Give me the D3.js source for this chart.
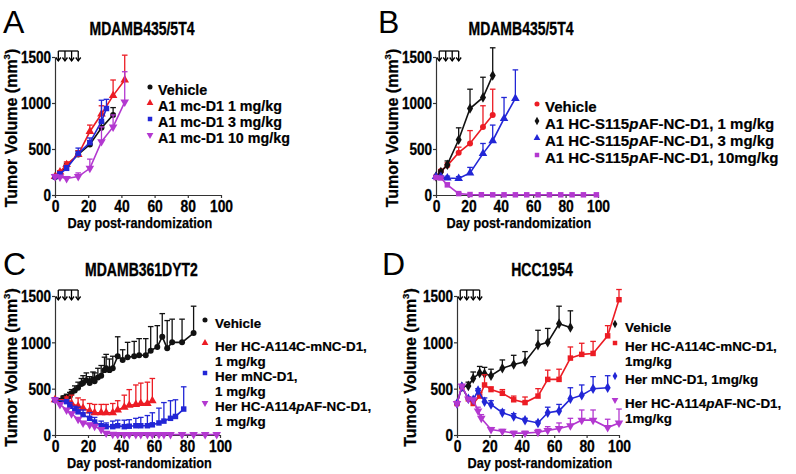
<!DOCTYPE html>
<html><head><meta charset="utf-8">
<script src="https://cdn.jsdelivr.net/npm/d3@7"></script>
<style>
body{margin:0;background:#fff;}
svg{font-family:"Liberation Sans",Arial,Helvetica,sans-serif;}
</style></head><body>
<svg id="chart" width="796" height="474"></svg>
<script>
// ---- shared ticks / labels ----
const xTickValues = [0, 20, 40, 60, 80, 100];
const yTickValues = [0, 500, 1000, 1500];
const doseArrowDays = [2, 6, 10, 14];
const panelLetters = ["A", "B", "C", "D"];
const panelTitles = ["MDAMB435/5T4", "MDAMB435/5T4", "MDAMB361DYT2", "HCC1954"];

// ---- Panel A ----
const aVehDays = [0, 3, 7, 14, 21, 28, 35];
const aVehVals = [195, 240, 320, 440, 550, 730, 870];
const aVehErr  = [10, 20, 25, 40, 40, 60, 80];
const aD1Days = [0, 3, 7, 14, 21, 28, 35, 42];
const aD1Vals = [200, 250, 330, 440, 690, 880, 1080, 1250];
const aD1Err  = [10, 15, 30, 40, 70, 90, 170, 270];
const aD3Days = [0, 3, 7, 14, 21, 28, 31];
const aD3Vals = [200, 230, 290, 450, 570, 800, 940];
const aD3Err  = [10, 15, 30, 60, 50, 230, 100];
const aD10Days = [0, 3, 7, 14, 21, 28, 35, 42];
const aD10Vals = [200, 195, 180, 200, 290, 580, 740, 1010];
const aD10Err  = [10, 15, 20, 40, 100, 160, 130, 330];
const aLegend = [["Vehicle"], ["A1 mc-D1 1 mg/kg"], ["A1 mc-D1 3 mg/kg"], ["A1 mc-D1 10 mg/kg"]];

// ---- Panel B ----
const bVehDays = [0, 3, 7, 14, 21, 29, 35];
const bVehVals = [200, 260, 320, 460, 560, 740, 870];
const bVehErr  = [10, 15, 30, 60, 140, 230, 280];
const bD1Days = [0, 3, 7, 14, 21, 29, 35];
const bD1Vals = [200, 250, 330, 600, 940, 1060, 1300];
const bD1Err  = [10, 20, 40, 130, 210, 220, 300];
const bD3Days = [0, 3, 7, 14, 21, 29, 35, 42, 49];
const bD3Vals = [200, 200, 185, 180, 240, 450, 590, 830, 1050];
const bD3Err  = [10, 10, 20, 20, 60, 110, 170, 230, 310];
const bD10Days = [0, 3, 7, 14, 21, 28, 35, 42, 49, 56, 63, 70, 77, 84, 91, 99];
const bD10Vals = [190, 185, 110, 15, 5, 3, 2, 2, 2, 2, 2, 2, 2, 2, 2, 2];
const bD10Err  = [10, 10, 20, 10, 0, 0, 0, 0, 0, 0, 0, 0, 0, 0, 0, 0];
const bLegend = [["Vehicle"], ["A1 HC-S115*p*AF-NC-D1, 1 mg/kg"], ["A1 HC-S115*p*AF-NC-D1, 3 mg/kg"], ["A1 HC-S115*p*AF-NC-D1, 10mg/kg"]];

// ---- Panel C ----
const cVehDays = [0, 3, 5, 7, 9, 10, 12, 14, 16, 17, 19, 21, 23, 24, 26, 28, 30, 31, 33, 35, 38, 41, 44, 48, 51, 55, 58, 62, 65, 68, 71, 77, 84];
const cVehVals = [380, 370, 400, 410, 420, 450, 480, 510, 550, 560, 590, 560, 600, 580, 620, 640, 700, 720, 700, 720, 850, 810, 840, 850, 860, 860, 910, 950, 1060, 935, 1000, 1000, 1100];
const cVehErr  = [10, 20, 20, 30, 40, 40, 50, 60, 60, 80, 80, 70, 80, 90, 100, 110, 140, 150, 120, 130, 210, 110, 160, 160, 180, 180, 260, 230, 250, 300, 250, 250, 290];
const cCysDays = [0, 7, 10, 14, 17, 21, 24, 28, 31, 35, 38, 42, 45, 49, 52, 56, 59];
const cCysVals = [380, 380, 340, 310, 290, 260, 240, 240, 240, 240, 270, 300, 320, 330, 340, 340, 370];
const cCysErr  = [0, 30, 90, 90, 90, 80, 90, 90, 90, 100, 100, 130, 170, 210, 220, 230, 240];
const cMncDays = [0, 7, 9, 12, 14, 17, 21, 24, 28, 31, 35, 38, 42, 45, 49, 52, 56, 59, 63, 66, 70, 73, 78];
const cMncVals = [380, 360, 310, 270, 250, 220, 180, 140, 100, 90, 90, 100, 90, 95, 100, 100, 100, 110, 130, 150, 180, 200, 280];
const cMncErr  = [0, 20, 40, 40, 50, 50, 60, 50, 50, 40, 60, 60, 70, 70, 80, 90, 110, 130, 160, 200, 190, 180, 240];
const cPafDays = [0, 3, 7, 10, 14, 17, 21, 24, 28, 31, 35, 38, 42, 45, 49, 52, 56, 59, 63, 66, 70, 77, 84, 91, 98];
const cPafVals = [380, 330, 270, 230, 170, 130, 110, 95, 60, 20, 8, 5, 5, 5, 5, 5, 5, 5, 5, 5, 5, 5, 5, 5, 5];
const cPafErr  = [0, 10, 15, 15, 15, 15, 15, 15, 15, 10, 5, 5, 5, 5, 5, 5, 5, 5, 5, 5, 5, 5, 5, 5, 5];
const cLegend = [["Vehicle"], ["Her HC-A114C-mNC-D1,", "1 mg/kg"], ["Her mNC-D1,", "1 mg/kg"], ["Her HC-A114*p*AF-NC-D1,", "1 mg/kg"]];

// ---- Panel D ----
const dVehDays = [3, 7, 10, 14, 17, 21, 28, 35, 42, 50, 56, 63, 70];
const dVehVals = [520, 530, 610, 670, 660, 640, 720, 760, 790, 970, 1000, 1200, 1160];
const dVehErr  = [0, 40, 70, 70, 70, 70, 90, 100, 110, 160, 150, 190, 180];
const dCysDays = [0, 3, 7, 10, 14, 17, 21, 28, 35, 42, 50, 56, 63, 70, 77, 84, 93, 100];
const dCysVals = [340, 520, 390, 340, 420, 540, 490, 450, 380, 350, 420, 600, 600, 830, 870, 880, 1070, 1460];
const dCysErr  = [0, 0, 0, 20, 40, 110, 30, 40, 40, 60, 80, 100, 110, 120, 120, 130, 110, 110];
const dMncDays = [0, 3, 7, 10, 13, 17, 21, 28, 35, 42, 50, 56, 63, 70, 77, 84, 93];
const dMncVals = [340, 520, 390, 380, 480, 360, 330, 240, 200, 160, 130, 240, 260, 390, 430, 500, 510];
const dMncErr  = [0, 0, 0, 0, 20, 40, 40, 30, 30, 20, 20, 60, 70, 120, 110, 130, 130];
const dPafDays = [0, 3, 7, 10, 13, 15, 21, 28, 35, 42, 50, 56, 63, 70, 77, 84, 93, 100];
const dPafVals = [340, 530, 390, 380, 260, 180, 60, 40, 20, 20, 30, 50, 70, 100, 160, 160, 80, 130];
const dPafErr  = [0, 0, 0, 0, 40, 40, 20, 20, 20, 20, 30, 40, 60, 80, 110, 110, 90, 150];
const dLegend = [["Vehicle"], ["Her HC-A114C-mNC-D1,", "1mg/kg"], ["Her mNC-D1, 1mg/kg"], ["Her HC-A114*p*AF-NC-D1,", "1mg/kg"]];

// ---- styles ----
const BLACK = "#111111", RED = "#ec1c24", BLUE = "#2226d6", PURPLE = "#b338d0";
const SYM = {
  circle: {type: d3.symbolCircle, size: 28, rot: 0},
  tri: {type: d3.symbolTriangle, size: 32, rot: 0},
  triDown: {type: d3.symbolTriangle, size: 32, rot: 180},
  square: {type: d3.symbolSquare, size: 30, rot: 0},
  diamond: {type: d3.symbolDiamond, size: 32, rot: 0}
};
function ser(days, vals, err, color, sym) {
  return {pts: days.map((d, i) => ({day: d, v: vals[i], e: err[i]})), color, sym};
}

const panels = [
  {x0: 55, x1: 221, yb: 195, yt: 57, letterX: 3, letterY: 33, titleY: 35, xlabY: 228, ylabOff: 38,
   series: [ser(aVehDays, aVehVals, aVehErr, BLACK, "circle"), ser(aD1Days, aD1Vals, aD1Err, RED, "tri"),
            ser(aD3Days, aD3Vals, aD3Err, BLUE, "square"), ser(aD10Days, aD10Vals, aD10Err, PURPLE, "triDown")],
   legend: aLegend, legSymX: 150, legTxtX: 158, legRows: [90, 106, 122, 138], legFont: 14.3, legLH: 15},
  {x0: 436, x1: 598, yb: 195, yt: 57, letterX: 378, letterY: 33, titleY: 35, xlabY: 228, ylabOff: 38,
   series: [ser(bVehDays, bVehVals, bVehErr, RED, "circle"), ser(bD1Days, bD1Vals, bD1Err, BLACK, "diamond"),
            ser(bD3Days, bD3Vals, bD3Err, BLUE, "tri"), ser(bD10Days, bD10Vals, bD10Err, PURPLE, "square")],
   legend: bLegend, legSymX: 537, legTxtX: 545, legRows: [107, 124, 141, 158], legFont: 15, legLH: 15},
  {x0: 55, x1: 220, yb: 435, yt: 296, letterX: 3, letterY: 275, titleY: 276, xlabY: 468, ylabOff: 38,
   series: [ser(cVehDays, cVehVals, cVehErr, BLACK, "circle"), ser(cCysDays, cCysVals, cCysErr, RED, "tri"),
            ser(cMncDays, cMncVals, cMncErr, BLUE, "square"), ser(cPafDays, cPafVals, cPafErr, PURPLE, "triDown")],
   legend: cLegend, legSymX: 205, legTxtX: 215, legRows: [323, 346, 376, 406], legFont: 13.4, legLH: 15},
  {x0: 457, x1: 619, yb: 435, yt: 296, letterX: 382, letterY: 275, titleY: 276, xlabY: 468, ylabOff: 41,
   series: [ser(dVehDays, dVehVals, dVehErr, BLACK, "diamond"), ser(dCysDays, dCysVals, dCysErr, RED, "square"),
            ser(dMncDays, dMncVals, dMncErr, BLUE, "diamond"), ser(dPafDays, dPafVals, dPafErr, PURPLE, "triDown")],
   legend: dLegend, legSymX: 615, legTxtX: 625, legRows: [327, 346, 379, 403], legFont: 13.4, legLH: 15}
];

const svg = d3.select("#chart");

function squeeze(sel, factor) {
  sel.each(function () {
    const w = this.getComputedTextLength();
    d3.select(this).attr("textLength", w * factor).attr("lengthAdjust", "spacingAndGlyphs");
  });
}

function addRich(parent, str) {
  str.split("*").forEach((part, i) => {
    if (!part) return;
    parent.append("tspan").attr("font-style", i % 2 ? "italic" : "normal").text(part);
  });
}

panels.forEach((p, pi) => {
  const g = svg.append("g");
  const x = d3.scaleLinear().domain([0, 100]).range([p.x0, p.x1]);
  const y = d3.scaleLinear().domain([0, 1500]).range([p.yb, p.yt]);
  const cx = (p.x0 + p.x1) / 2;

  // letter
  g.append("text").attr("x", p.letterX).attr("y", p.letterY)
    .attr("font-size", 32).attr("fill", "#000").text(panelLetters[pi]);
  // title
  const tt = g.append("text").attr("x", cx + 4).attr("y", p.titleY).attr("text-anchor", "middle")
    .attr("font-size", 17.5).attr("font-weight", "bold")
    .attr("stroke", "#000").attr("stroke-width", 0.35).text(panelTitles[pi]);
  squeeze(tt, 0.8);

  // axes
  const ax = g.append("g").attr("transform", `translate(0,${p.yb})`)
    .call(d3.axisBottom(x).tickValues(xTickValues).tickFormat(d3.format("d")).tickSize(3).tickSizeOuter(0).tickPadding(1));
  const ay = g.append("g").attr("transform", `translate(${p.x0},0)`)
    .call(d3.axisLeft(y).tickValues(yTickValues).tickFormat(d3.format("d")).tickSize(3).tickSizeOuter(0).tickPadding(1));
  [ax, ay].forEach(a => {
    a.select(".domain").attr("stroke", "#333").attr("stroke-width", 1.2);
    a.selectAll(".tick line").attr("stroke", "#333").attr("stroke-width", 1.2);
    a.selectAll(".tick text").attr("font-size", 16.5).attr("font-weight", "bold")
      .attr("fill", "#000").attr("stroke", "#000").attr("stroke-width", 0.3)
      .attr("font-family", "Liberation Sans, Arial, sans-serif");
  });
  ax.selectAll(".tick text").attr("dy", "0.8em");
  ay.selectAll(".tick text").attr("dy", "0.36em");
  squeeze(ax.selectAll(".tick text"), 0.84);
  squeeze(ay.selectAll(".tick text"), 0.82);

  // axis labels
  const yl = g.append("text").attr("transform", `translate(${p.x0 - p.ylabOff},${(p.yb + p.yt) / 2 + 2}) rotate(-90)`)
    .attr("text-anchor", "middle").attr("font-size", 16).attr("font-weight", "bold")
    .attr("stroke", "#000").attr("stroke-width", 0.25);
  yl.append("tspan").text("Tumor Volume (mm");
  yl.append("tspan").attr("font-size", 9.5).attr("dy", -7).text("3");
  yl.append("tspan").attr("dy", 7).text(")");

  const xl = g.append("text").attr("x", cx + 2).attr("y", p.xlabY).attr("text-anchor", "middle")
    .attr("font-size", 15.5).attr("font-weight", "bold")
    .attr("stroke", "#000").attr("stroke-width", 0.25).text("Day post-randomization");
  squeeze(xl, 0.82);

  // dosing arrows
  const aTop = p.yt - 6, aBot = p.yt + 4;
  g.append("line").attr("x1", x(doseArrowDays[0])).attr("x2", x(doseArrowDays[doseArrowDays.length - 1]))
    .attr("y1", aTop).attr("y2", aTop).attr("stroke", "#000").attr("stroke-width", 1.3);
  doseArrowDays.forEach(d => {
    const xx = x(d);
    g.append("line").attr("x1", xx).attr("x2", xx).attr("y1", aTop).attr("y2", aBot)
      .attr("stroke", "#000").attr("stroke-width", 1.3);
    g.append("path").attr("d", `M${xx - 2.5},${aBot - 3.5}L${xx},${aBot}L${xx + 2.5},${aBot - 3.5}`)
      .attr("fill", "none").attr("stroke", "#000").attr("stroke-width", 1.3);
  });

  // series
  const line = d3.line().x(d => x(d.day)).y(d => y(d.v));
  p.series.forEach(s => {
    const sg = g.append("g");
    s.pts.filter(d => d.e > 0).forEach(d => {
      const xx = x(d.day), yTop = y(d.v + d.e);
      sg.append("line").attr("x1", xx).attr("x2", xx).attr("y1", y(d.v)).attr("y2", yTop)
        .attr("stroke", s.color).attr("stroke-width", 1.3);
      sg.append("line").attr("x1", xx - 2.8).attr("x2", xx + 2.8).attr("y1", yTop).attr("y2", yTop)
        .attr("stroke", s.color).attr("stroke-width", 1.3);
    });
    sg.append("path").datum(s.pts).attr("d", line).attr("fill", "none")
      .attr("stroke", s.color).attr("stroke-width", 1.6);
    sg.selectAll(".m").data(s.pts).enter().append("path")
      .attr("d", d3.symbol().type(SYM[s.sym].type).size(SYM[s.sym].size)())
      .attr("transform", d => `translate(${x(d.day)},${y(d.v)}) rotate(${SYM[s.sym].rot})`)
      .attr("fill", s.color);
  });

  // legend (multi-line entries are one text element with stacked tspans)
  p.legend.forEach((lines, li) => {
    const y0 = p.legRows[li];
    const s = p.series[li];
    g.append("path").attr("d", d3.symbol().type(SYM[s.sym].type).size(20)())
      .attr("transform", `translate(${p.legSymX},${y0 - 3}) rotate(${SYM[s.sym].rot})`)
      .attr("fill", s.color);
    const t = g.append("text").attr("x", p.legTxtX).attr("y", y0 + 5)
      .attr("font-size", p.legFont).attr("font-weight", "bold").attr("fill", "#000")
      .attr("stroke", "#000").attr("stroke-width", 0.2);
    lines.forEach((ln, k) => {
      const row = t.append("tspan").attr("x", p.legTxtX).attr("dy", k === 0 ? 0 : p.legLH);
      addRich(row, ln);
    });
  });
});
</script>
</body></html>
